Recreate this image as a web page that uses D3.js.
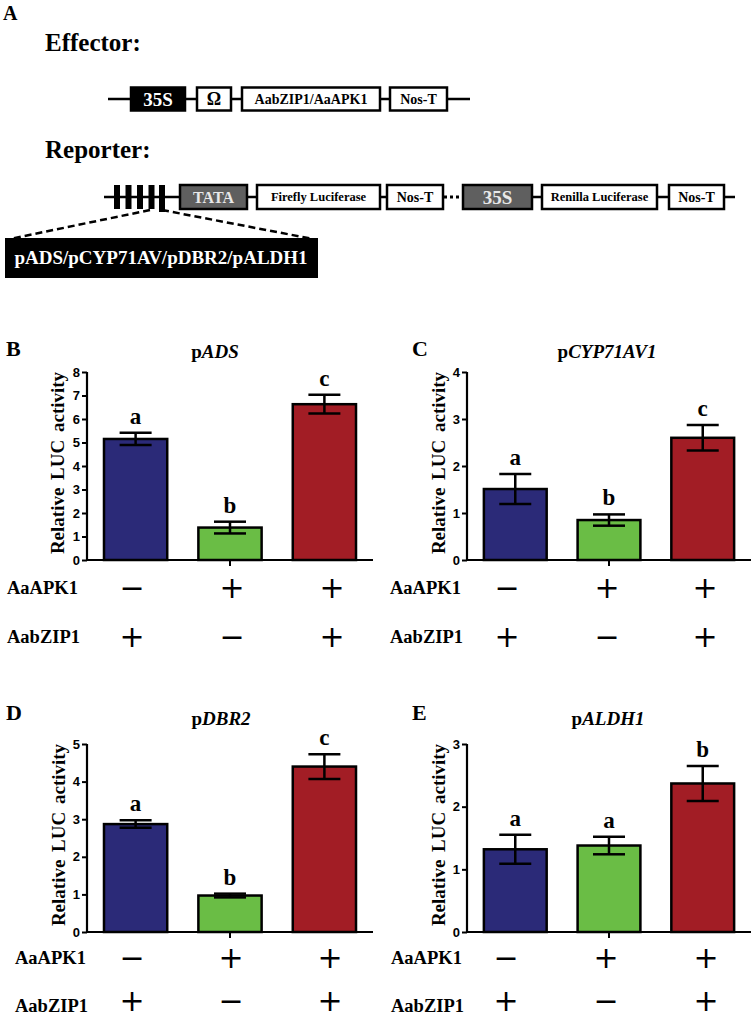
<!DOCTYPE html>
<html>
<head>
<meta charset="utf-8">
<script src="https://cdn.jsdelivr.net/npm/d3@7"></script>
<style>
  html, body { margin: 0; padding: 0; background: #fff; }
  svg { display: block; }
  .serif { font-family: "Liberation Serif", "Times New Roman", serif; font-weight: bold; }
  .sans { font-family: "Liberation Sans", Arial, sans-serif; font-weight: bold; }
</style>
</head>
<body>
<svg id="fig" width="752" height="1019"></svg>
<script>
// ---------------- DATA ----------------
const conditions = ["AabZIP1", "AaAPK1", "AaAPK1 + AabZIP1"];
const rowNames = ["AaAPK1", "AabZIP1"];
const aaAPK1Signs = ["\u2212", "+", "+"];
const aabZIP1Signs = ["+", "\u2212", "+"];

const adsValues = [5.15, 1.38, 6.63];
const adsErrors = [0.26, 0.25, 0.40];
const adsLetters = ["a", "b", "c"];
const adsTicks = [0, 1, 2, 3, 4, 5, 6, 7, 8];

const cypValues = [1.51, 0.85, 2.60];
const cypErrors = [0.32, 0.12, 0.27];
const cypLetters = ["a", "b", "c"];
const cypTicks = [0, 1, 2, 3, 4];

const dbrValues = [2.87, 0.97, 4.40];
const dbrErrors = [0.10, 0.05, 0.33];
const dbrLetters = ["a", "b", "c"];
const dbrTicks = [0, 1, 2, 3, 4, 5];

const aldhValues = [1.32, 1.38, 2.37];
const aldhErrors = [0.23, 0.14, 0.28];
const aldhLetters = ["a", "a", "b"];
const aldhTicks = [0, 1, 2, 3];

const titlesPrefix = "p";
const titleGenes = ["ADS", "CYP71AV1", "DBR2", "ALDH1"];
const panelLetters = ["B", "C", "D", "E"];
const yLabel = "Relative LUC activity";

// Diagram texts
const effectorParts = ["35S", "\u03A9", "AabZIP1/AaAPK1", "Nos-T"];
const reporterParts = ["TATA", "Firefly Luciferase", "Nos-T", "35S", "Renilla Luciferase", "Nos-T"];
const promoterText = "pADS/pCYP71AV/pDBR2/pALDH1";

// ---------------- STYLE / LAYOUT ----------------
const barColors = ["#2b2a78", "#6abd45", "#a21d25"];
const svg = d3.select("#fig");

// ---- Panel A diagram ----
const A = svg.append("g");
A.append("text").attr("class", "serif").attr("x", 3).attr("y", 20).attr("font-size", 20).text("A");
A.append("text").attr("class", "serif").attr("x", 45).attr("y", 51).attr("font-size", 25).text("Effector:");
A.append("text").attr("class", "serif").attr("x", 45).attr("y", 158).attr("font-size", 25).text("Reporter:");

function drawBox(g, x0, x1, yc, h, fill, textColor, label, fs) {
  g.append("rect").attr("x", x0).attr("y", yc - h / 2).attr("width", x1 - x0).attr("height", h)
    .attr("fill", fill).attr("stroke", "#000").attr("stroke-width", 2.5);
  g.append("text").attr("class", "serif").attr("x", (x0 + x1) / 2).attr("y", yc)
    .attr("dy", "0.35em").attr("text-anchor", "middle").attr("font-size", fs)
    .attr("fill", textColor).text(label);
}

// Effector row
const effY = 99;
A.append("line").attr("x1", 108).attr("x2", 470).attr("y1", effY).attr("y2", effY)
  .attr("stroke", "#000").attr("stroke-width", 2.5);
const effBoxes = [
  {x0: 131, x1: 185, fill: "#000", tc: "#fff", fs: 19},
  {x0: 197, x1: 231, fill: "#fff", tc: "#000", fs: 18},
  {x0: 242, x1: 380, fill: "#fff", tc: "#000", fs: 14},
  {x0: 390, x1: 447, fill: "#fff", tc: "#000", fs: 14}
];
effBoxes.forEach((b, i) => drawBox(A, b.x0, b.x1, effY, 23, b.fill, b.tc, effectorParts[i], b.fs));

// Reporter row
const repY = 197;
A.append("line").attr("x1", 104).attr("x2", 443).attr("y1", repY).attr("y2", repY)
  .attr("stroke", "#000").attr("stroke-width", 2.5);
A.append("line").attr("x1", 532).attr("x2", 735).attr("y1", repY).attr("y2", repY)
  .attr("stroke", "#000").attr("stroke-width", 2.5);
A.append("line").attr("x1", 444).attr("x2", 463).attr("y1", repY).attr("y2", repY)
  .attr("stroke", "#000").attr("stroke-width", 3).attr("stroke-dasharray", "3,3");
[117, 128.5, 140, 151.5, 162].forEach((cx, i) => {
  A.append("rect").attr("x", cx - 3).attr("y", 185).attr("width", 6).attr("height", i === 4 ? 27 : 24).attr("fill", "#000");
});
const repBoxes = [
  {x0: 180, x1: 247, fill: "#5f5f5f", tc: "#e8e8e8", fs: 16},
  {x0: 257, x1: 380, fill: "#fff", tc: "#000", fs: 12.5},
  {x0: 387, x1: 443, fill: "#fff", tc: "#000", fs: 14},
  {x0: 463, x1: 532, fill: "#5f5f5f", tc: "#e8e8e8", fs: 19},
  {x0: 542, x1: 657, fill: "#fff", tc: "#000", fs: 12.5},
  {x0: 669, x1: 724, fill: "#fff", tc: "#000", fs: 14}
];
repBoxes.forEach((b, i) => drawBox(A, b.x0, b.x1, repY, 24, b.fill, b.tc, reporterParts[i], b.fs));

// dashed zoom lines and promoter box
A.append("line").attr("x1", 150).attr("y1", 210).attr("x2", 10).attr("y2", 239)
  .attr("stroke", "#000").attr("stroke-width", 2.5).attr("stroke-dasharray", "7,4");
A.append("line").attr("x1", 162).attr("y1", 210).attr("x2", 313).attr("y2", 239)
  .attr("stroke", "#000").attr("stroke-width", 2.5).attr("stroke-dasharray", "7,4");
A.append("rect").attr("x", 5).attr("y", 238).attr("width", 313).attr("height", 40).attr("fill", "#000");
A.append("text").attr("class", "serif").attr("x", 161).attr("y", 264).attr("text-anchor", "middle")
  .attr("font-size", 19).attr("fill", "#fff").text(promoterText);

// ---- Bar panels ----
const panels = [
  {values: adsValues, errors: adsErrors, letters: adsLetters, ticks: adsTicks, gene: titleGenes[0], tag: panelLetters[0],
   ax: 87, axEnd: 373, yTop: 372, yBot: 560, titleX: 215, titleY: 358, tagX: 6, tagY: 356,
   labelX: 57, rowLabelX: 7, rowY: [588, 637], signY: [588, 637], signX: [132, 232, 332]},
  {values: cypValues, errors: cypErrors, letters: cypLetters, ticks: cypTicks, gene: titleGenes[1], tag: panelLetters[1],
   ax: 467, axEnd: 751, yTop: 372, yBot: 560, titleX: 607, titleY: 358, tagX: 412, tagY: 356,
   labelX: 438, rowLabelX: 390, rowY: [588, 637], signY: [588, 637], signX: [507, 607, 705]},
  {values: dbrValues, errors: dbrErrors, letters: dbrLetters, ticks: dbrTicks, gene: titleGenes[2], tag: panelLetters[2],
   ax: 87, axEnd: 373, yTop: 744, yBot: 932, titleX: 221, titleY: 725, tagX: 6, tagY: 720,
   labelX: 58, rowLabelX: 15, rowY: [958, 1006], signY: [958, 1001], signX: [132, 231, 330]},
  {values: aldhValues, errors: aldhErrors, letters: aldhLetters, ticks: aldhTicks, gene: titleGenes[3], tag: panelLetters[3],
   ax: 467, axEnd: 751, yTop: 744, yBot: 932, titleX: 608, titleY: 725, tagX: 412, tagY: 720,
   labelX: 438, rowLabelX: 391, rowY: [958, 1006], signY: [958, 1001], signX: [506, 606, 706]}
];

panels.forEach(p => {
  const g = svg.append("g");
  const x = d3.scaleBand().domain(conditions).range([p.ax, p.axEnd]).paddingInner(0.33).paddingOuter(0.18);
  const y = d3.scaleLinear().domain([0, d3.max(p.ticks)]).range([p.yBot, p.yTop]);

  // panel tag and title
  g.append("text").attr("class", "serif").attr("x", p.tagX).attr("y", p.tagY).attr("font-size", 22).text(p.tag);
  const t = g.append("text").attr("class", "serif").attr("x", p.titleX).attr("y", p.titleY)
    .attr("text-anchor", "middle").attr("font-size", 19);
  t.append("tspan").text(titlesPrefix);
  t.append("tspan").attr("font-style", "italic").text(p.gene);

  // y label
  g.append("text").attr("class", "serif").attr("font-size", 19).attr("text-anchor", "middle")
    .attr("word-spacing", 3)
    .attr("transform", `translate(${p.labelX},${(p.yTop + p.yBot) / 2 - 3}) rotate(-90)`)
    .attr("dy", "0.35em").text(yLabel);

  // bars
  g.selectAll("rect.bar").data(p.values).join("rect").attr("class", "bar")
    .attr("x", (d, i) => x(conditions[i])).attr("width", x.bandwidth())
    .attr("y", d => y(d)).attr("height", d => y(0) - y(d))
    .attr("fill", (d, i) => barColors[i]).attr("stroke", "#000").attr("stroke-width", 2.5);

  // error bars
  const cap = 16;
  p.values.forEach((v, i) => {
    const cx = x(conditions[i]) + x.bandwidth() / 2;
    const hi = y(v + p.errors[i]), lo = y(v - p.errors[i]);
    g.append("line").attr("x1", cx).attr("x2", cx).attr("y1", hi).attr("y2", lo).attr("stroke", "#000").attr("stroke-width", 2.5);
    g.append("line").attr("x1", cx - cap).attr("x2", cx + cap).attr("y1", hi).attr("y2", hi).attr("stroke", "#000").attr("stroke-width", 2.5);
    g.append("line").attr("x1", cx - cap).attr("x2", cx + cap).attr("y1", lo).attr("y2", lo).attr("stroke", "#000").attr("stroke-width", 2.5);
    g.append("text").attr("class", "serif").attr("x", cx).attr("y", hi - 9)
      .attr("text-anchor", "middle").attr("font-size", 23).text(p.letters[i]);
  });

  // y axis
  const yAxis = g.append("g").attr("transform", `translate(${p.ax},0)`)
    .call(d3.axisLeft(y).tickValues(p.ticks).tickFormat(d3.format("d")).tickSize(5).tickPadding(2));
  yAxis.select(".domain").attr("stroke-width", 2.2).attr("d", `M0,${p.yTop}V${p.yBot}`);
  yAxis.selectAll(".tick line").attr("stroke-width", 2);
  yAxis.selectAll(".tick text").attr("class", "sans").attr("font-size", 13).attr("fill", "#000");

  // x axis
  const xAxis = g.append("g").attr("transform", `translate(0,${p.yBot})`)
    .call(d3.axisBottom(x).tickValues([conditions[1]]).tickSize(6).tickFormat(""));
  xAxis.select(".domain").attr("stroke-width", 2.2).attr("d", `M${p.ax},0H${p.axEnd}`);
  xAxis.selectAll(".tick line").attr("stroke-width", 2);

  // condition rows
  [aaAPK1Signs, aabZIP1Signs].forEach((signs, r) => {
    g.append("text").attr("class", "serif").attr("x", p.rowLabelX).attr("y", p.rowY[r] + 6)
      .attr("font-size", 18.5).text(rowNames[r]);
    signs.forEach((s, i) => {
      g.append("text").attr("x", p.signX[i]).attr("y", p.signY[r] + 10.4).attr("text-anchor", "middle")
        .attr("font-family", "DejaVu Sans").attr("font-size", 30).text(s);
    });
  });
});
</script>
</body>
</html>
